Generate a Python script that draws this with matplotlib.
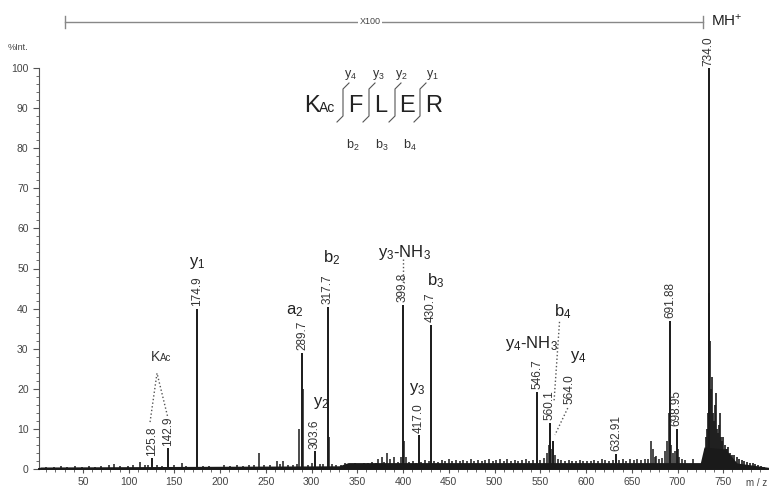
import matplotlib
matplotlib.use("Agg")
import matplotlib.pyplot as plt
from matplotlib.ticker import MultipleLocator

plt.rcParams['font.family'] = ['Liberation Sans', 'DejaVu Sans']
plt.rcParams['mathtext.default'] = 'regular'

##############################################################
# labelled peaks (m/z, %Int.)
peak_mz = [125.8, 142.9, 174.9, 289.7, 303.6, 317.7, 399.8, 417.0, 430.7,
           546.7, 560.1, 564.0, 632.91, 691.88, 698.95, 734.0]
peak_int = [2.7, 5.2, 40, 29, 4.5, 40.5, 41, 8.5, 36,
            19.3, 11.5, 7, 3.8, 37, 10, 100]
peak_text = ["125.8", "142.9", "174.9", "289.7", "303.6", "317.7", "399.8", "417.0", "430.7",
             "546.7", "560.1", "564.0", "632.91", "691.88", "698.95", "734.0"]

# unlabelled peaks / background
minor_mz = [10, 18, 26, 33, 41, 49, 57, 63, 70, 78, 84, 91, 99, 105, 112, 118, 121, 131, 136,
            150, 158, 163, 181, 188, 196, 204, 211, 218, 225, 232, 237, 243, 248, 255, 262,
            265, 269, 274, 280, 284, 286.7, 290.7, 296, 300, 309, 313, 318.7, 322, 327,
            332, 337, 342, 347, 352, 357, 362, 366, 370, 373, 377, 379, 382, 386, 390, 394,
            398, 401, 403, 407, 411, 414, 420, 424, 428, 434, 438, 442, 446, 450, 454, 458,
            462, 466, 470, 474, 478, 482, 486, 490, 494, 498, 502, 506, 510, 514, 518, 522,
            526, 530, 534, 538, 542, 550, 554, 557, 559, 561, 562, 566, 569, 573, 577, 581,
            585, 589, 593, 597, 601, 605, 609, 613, 617, 621, 625, 629, 636, 640, 644, 648,
            652, 656, 660, 664, 668, 671, 673, 675, 677, 680, 683, 686, 688, 690.9, 693, 695,
            697, 700, 702, 705, 708, 712, 717, 722, 726]
minor_int = [0.6, 0.5, 0.7, 0.5, 0.8, 0.6, 0.7, 0.5, 0.8, 0.9, 1.3, 0.7, 0.8, 0.9, 1.8, 0.9, 1.1,
             1.0, 0.8, 0.9, 1.4, 0.8, 0.7, 0.8, 0.6, 0.9, 0.8, 1.0, 0.8, 1.1, 0.9, 4.0, 1.0,
             0.9, 2.0, 1.2, 2.0, 1.1, 1.0, 1.3, 10, 20, 1.0, 1.6, 1.2, 1.3, 8, 1.2, 1.0,
             1.1, 1.4, 1.2, 1.5, 1.3, 1.6, 1.4, 1.8, 1.5, 2.5, 3.0, 1.8, 4.0, 2.5, 3.0, 1.8,
             3.0, 7.0, 3.0, 1.8, 2.0, 1.6, 1.8, 2.2, 1.9, 2.0, 1.8, 2.2, 1.9, 2.4, 2.0, 2.3,
             1.9, 2.2, 2.0, 2.5, 2.1, 2.3, 1.9, 2.2, 2.4, 2.0, 2.3, 2.6, 2.1, 2.4, 2.0, 2.3,
             2.0, 2.2, 2.5, 2.0, 2.2, 2.3, 2.8, 4.0, 6.0, 7.0, 5.0, 3.5, 2.4, 2.2, 2.0, 2.3,
             2.1, 2.0, 2.2, 1.9, 2.1, 2.0, 2.3, 2.1, 2.4, 2.2, 2.0, 2.3, 2.2, 2.5, 2.1, 2.4,
             2.2, 2.5, 2.3, 2.6, 2.4, 7.0, 5.0, 3.0, 3.2, 2.4, 2.8, 4.5, 7.0, 14, 6.0, 4.0,
             4.5, 5.0, 3.0, 2.6, 2.3, 1.2, 2.5, 1.0, 0.8]

# isotope / tail cluster of MH+
cluster_mz = [729, 730, 731, 732.5, 733.3, 734.9, 735.8, 736.6, 737.5, 738.5, 739.5, 740.6,
              741.7, 742.8, 744, 745, 746, 747.2, 748.5, 750, 751.5, 753, 754.5, 755.6,
              757.5, 759.5, 762, 764.5, 767, 770, 773, 776, 779, 782, 785, 788, 791, 795]
cluster_int = [3, 5, 8, 10, 14, 44, 32, 20, 23, 14, 12, 16, 19, 10, 9, 11, 14, 8, 7, 8, 6,
               5, 5, 5.5, 4, 3.5, 3.5, 3, 2.5, 2.2, 2, 1.8, 1.5, 1.5, 1.2, 1.0, 0.8, 0.6]

# envelope of the noisy baseline
base_mz = [3, 330, 340, 725, 729, 752, 765, 800]
base_int = [0.5, 0.8, 1.6, 1.6, 5.5, 5.0, 1.5, 0.4]

# ion assignments: text, x (m/z), y (%Int.)
ion_text = [r'$y_1$', r'$b_2$', r'$a_2$', r'$y_2$', r'$y_3$-NH$_3$', r'$b_3$', r'$y_3$',
            r'$y_4$-NH$_3$', r'$b_4$', r'$y_4$']
ion_x = [175, 322, 282, 310, 401, 436, 415, 540, 575, 591]
ion_y = [51.4, 52.6, 39.4, 16.5, 54.0, 47.0, 20.0, 31.4, 39.2, 28.0]
##############################################################

fig = plt.figure(figsize=(7.69, 4.94), dpi=100)
ax = fig.add_axes([39 / 769, 25 / 494, 730 / 769, 401 / 494])

ink = '#1a1a1a'
ax.fill_between(base_mz, 0, base_int, color=ink, lw=0)
ax.vlines(minor_mz, 0, minor_int, color=ink, lw=1.1)
ax.vlines(cluster_mz, 0, cluster_int, color=ink, lw=1.2)
ax.vlines(peak_mz, 0, peak_int, color=ink, lw=1.4)

# peak m/z labels
for mz, it, t in zip(peak_mz, peak_int, peak_text):
    if t == "564.0":
        continue
    ax.text(mz, it + 0.6, t, rotation=90, ha='center', va='bottom',
            fontsize=8.5, color='#333333', clip_on=False)
# 564.0 label sits off the peak with a dotted leader
ax.text(582, 20, "564.0", rotation=90, ha='center', va='center', fontsize=8.5, color='#333333')
ax.plot([580, 566], [15.2, 8.5], ls=':', color='#555555', lw=1)

for t, x, y in zip(ion_text, ion_x, ion_y):
    ax.text(x, y, t, ha='center', va='center', fontsize=12, color='#222222')

# dotted leaders
ax.plot([399.8, 399.8], [52.3, 46.2], ls=':', color='#555555', lw=1)
ax.plot([571, 565], [36.7, 16.8], ls=':', color='#555555', lw=1)
ax.text(134, 27.9, 'K', ha='right', va='center', fontsize=10, color='#333333')
ax.text(134, 27.6, 'Ac', ha='left', va='center', fontsize=7, color='#333333')
ax.plot([123.4, 131, 143], [11.7, 23.9, 12.7], ls=':', color='#555555', lw=1)

ax.set_xlim(2, 800)
ax.set_ylim(0, 100)
ax.spines['top'].set_visible(False)
ax.spines['right'].set_visible(False)
ax.spines['left'].set_color('#555555')
ax.spines['bottom'].set_linewidth(1.4)
ax.spines['bottom'].set_color(ink)

ax.xaxis.set_minor_locator(MultipleLocator(10))
ax.yaxis.set_major_locator(MultipleLocator(10))
ax.yaxis.set_minor_locator(MultipleLocator(2))
ax.set_xticks(range(50, 751, 50))
ax.tick_params(axis='both', which='major', labelsize=7.5, labelcolor='#444444',
               color='#555555', length=4, width=0.8, direction='out')
ax.tick_params(axis='both', which='minor', color='#555555', length=2, width=0.6, direction='out')
ax.tick_params(axis='x', which='major', length=3, pad=3)

# pixel-space overlay for the header and the sequence diagram
ov = fig.add_axes([0, 0, 1, 1])
ov.set_xlim(0, 769)
ov.set_ylim(494, 0)
ov.axis('off')
ov.patch.set_alpha(0)

gray = '#555555'
ov.plot([65, 703], [22, 22], color='#888888', lw=1)
ov.plot([65, 65], [16, 28], color='#888888', lw=1)
ov.plot([703, 703], [16, 28], color='#888888', lw=1)
ov.text(370, 22, 'X100', ha='center', va='center', fontsize=6.5, color='#444444',
        bbox=dict(facecolor='white', edgecolor='none', pad=1))
ov.text(711, 21, r'MH$^{+}$', ha='left', va='center', fontsize=11, color='#222222')
ov.text(18, 47, '%Int.', ha='center', va='center', fontsize=6.5, color='#444444')
ov.text(767, 483, 'm / z', ha='right', va='center', fontsize=7, color='#444444')

# peptide sequence with fragment marks
ov.text(312, 112, 'K', ha='center', va='baseline', fontsize=17, color='#222222')
ov.text(327, 112, 'Ac', ha='center', va='baseline', fontsize=10, color='#222222')
for ch, x in zip(['F', 'L', 'E', 'R'], [355, 381, 407, 434]):
    ov.text(x, 112, ch, ha='center', va='baseline', fontsize=17, color='#222222')
for x in [343, 369, 395, 420]:
    ov.plot([x + 6, x, x, x - 6], [83, 89, 116, 122], color=gray, lw=0.8)
for t, x in zip([r'$y_4$', r'$y_3$', r'$y_2$', r'$y_1$'], [350, 378, 401, 432]):
    ov.text(x, 75, t, ha='center', va='center', fontsize=9, color='#333333')
for t, x in zip([r'$b_2$', r'$b_3$', r'$b_4$'], [353, 382, 410]):
    ov.text(x, 145, t, ha='center', va='center', fontsize=9, color='#333333')

fig.savefig('out.png', dpi=100)
